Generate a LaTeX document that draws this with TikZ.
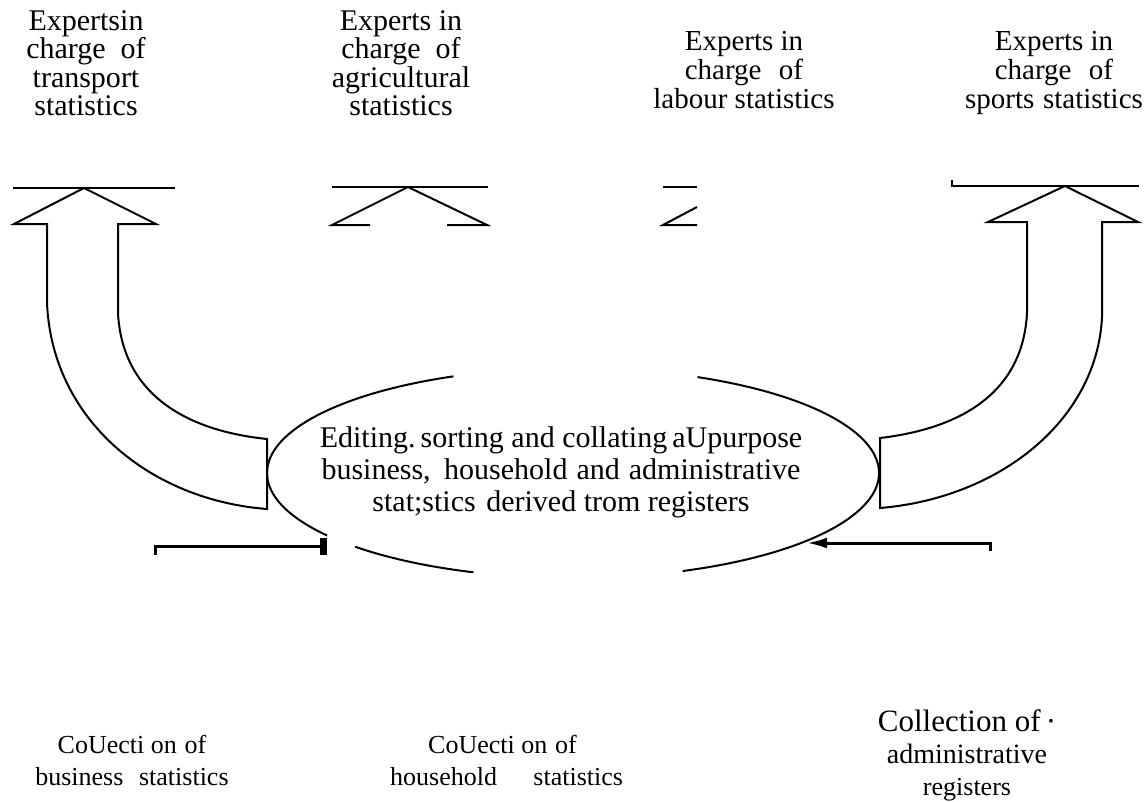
\documentclass[tikz,border=0pt]{standalone}
\usepackage{fontspec}
\setmainfont{Liberation Serif}
\usetikzlibrary{arrows.meta}
\begin{document}
\begin{tikzpicture}[x=1bp, y=-1bp,
  bar/.style={line width=2.6bp},
  outline/.style={line width=2bp, line join=miter},
  rim/.style={line width=2bp},
  feed/.style={line width=3bp},
  lbl/.style={inner sep=0pt, align=center, font=\fontsize{30bp}{28.5bp}\selectfont},
  foot/.style={inner sep=0pt, align=center, font=\fontsize{26bp}{31.5bp}\selectfont}]
\useasboundingbox (0,0) rectangle (1147,802);

% expert groups
\node[lbl, anchor=north] (transport) at (86,10) {Expertsin\\charge\hspace{.5em}of\\transport\\statistics};
\node[lbl, anchor=north] (agri) at (401,10) {Experts in\\charge\hspace{.5em}of\\agricultural\\statistics};
\node[lbl, anchor=north, font=\fontsize{29bp}{29bp}\selectfont] (labour) at (744,31) {Experts in\\charge\hspace{.6em}of\\labour statistics};
\node[lbl, anchor=north, font=\fontsize{29bp}{29bp}\selectfont] (sports) at (1054,31) {Experts in\\charge\hspace{.6em}of\\sports\hspace{.3em}statistics};

% central processing
\coordinate (ec) at (573,473);
\node[inner sep=0pt, align=center, font=\fontsize{30bp}{32bp}\selectfont] (core) at (561,472)
  {Editing.\,sorting and collating\,aUpurpose\\business,\hspace{.45em}household\hspace{.3em}and\hspace{.3em}administrative\\stat;stics\hspace{.35em}derived trom registers};
\draw[rim] ([shift={(-113:306 and 105)}]ec) arc[start angle=-113, end angle=-216.5, x radius=306, y radius=105];
\draw[rim] ([shift={(-224.6:306 and 105)}]ec) arc[start angle=-224.6, end angle=-251, x radius=306, y radius=105];
\draw[rim] ([shift={(-66:306 and 105)}]ec) arc[start angle=-66, end angle=69, x radius=306, y radius=105];

% sources
\node[foot, anchor=north] (business) at (132,735) {CoUecti on\hspace{.3em}of\\business\hspace{.6em}statistics};
\node[foot, align=left, anchor=north west] (household) at (390,735) {\hspace*{38bp}CoUecti on\hspace{.3em}of\\household\hspace{1.4em}statistics};
\node[foot, anchor=north] (admin) at (967,709) {\fontsize{31bp}{35bp}\selectfont Collection of\,·\\[1bp]\fontsize{28bp}{33bp}\selectfont administrative\\registers};

% broad arrow to transport
\draw[outline] (84,188) -- (14,224) -- (47,224) -- (47,303)
  .. controls (52,420) and (150,500) .. (267,509) -- (267,439)
  .. controls (180,430) and (122,390) .. (118,313) -- (118,224) -- (156,224) -- cycle;
\draw[bar] (13,188) -- (175,188);

% broad arrow to sports
\draw[outline] (1065,186) -- (988,222) -- (1027,222) -- (1027,313)
  .. controls (1023,390) and (965,428) .. (880,438) -- (880,508)
  .. controls (1000,498) and (1097,420) .. (1102,317) -- (1102,222) -- (1138,222) -- cycle;
\draw[bar] (952,180) -- (952,186) -- (1139,186);

% arrow heads towards agriculture and labour
\draw[bar] (332,187) -- (488,187);
\draw[outline] (370,225) -- (332,225) -- (408,187) -- (487,225) -- (447,225);
\draw[bar] (663,187) -- (697,187);
\draw[outline] (697,207) -- (663,225) -- (697,225);

% feeds into the processing
\coordinate (bizL) at (155,555);
\coordinate (bizK) at (155,546);
\coordinate (inL) at (327,546);
\draw[feed, -{Rectangle[length=7bp,width=17bp]}] (bizL) -- (bizK) -- (inL);
\coordinate (admR) at (990,551);
\coordinate (admK) at (990,543);
\coordinate (inR) at (807,543);
\draw[feed, -{Latex[length=20bp,width=11bp]}] (admR) -- (admK) -- (inR);
\end{tikzpicture}
\end{document}
